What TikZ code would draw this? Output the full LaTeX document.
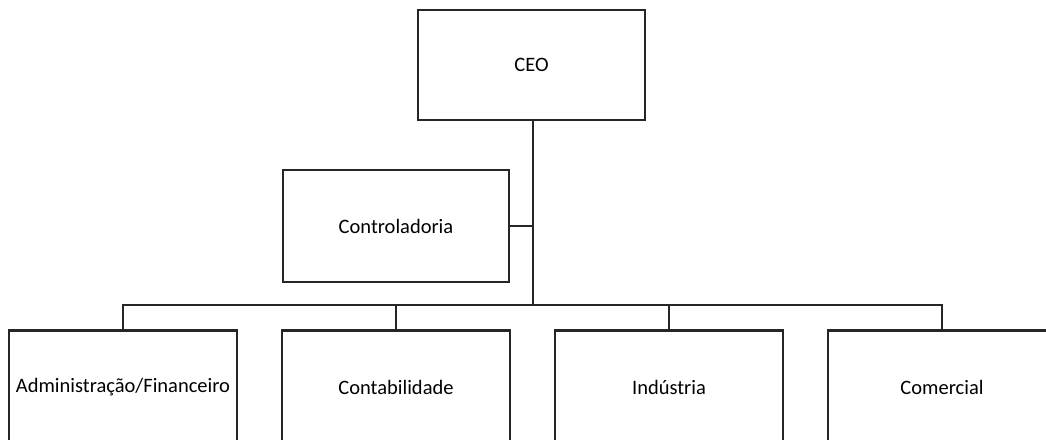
\documentclass[tikz,border=0pt]{standalone}
\usepackage{fontspec}
\setmainfont{Carlito}
\begin{document}
\begin{tikzpicture}[x=1pt,y=-1pt,
  box/.style={draw=black!85,line width=2.6pt,fill=white,inner sep=0pt},
  lbl/.style={font=\fontsize{20.5}{24}\selectfont},
  conn/.style={draw=black!85,line width=2.6pt}]
\useasboundingbox (0,0) rectangle (1046,439);
\clip (0,0) rectangle (1046,439);
\node[box,lbl,minimum width=227pt,minimum height=110pt] (ceo) at (531.5,65) {CEO};
\node[box,lbl,minimum width=226pt,minimum height=112pt] (ctrl) at (396,226) {Controladoria};
\node[box,minimum width=228pt,minimum height=116pt,anchor=north] (adm) at (123,329) {};
\node[box,minimum width=228pt,minimum height=116pt,anchor=north] (cont) at (396,329) {};
\node[box,minimum width=228pt,minimum height=116pt,anchor=north] (ind) at (669,329) {};
\node[box,minimum width=228pt,minimum height=116pt,anchor=north] (com) at (942,329) {};
\node[lbl] (admt) at (123,387) {Administração/Financeiro};
\node[lbl] (contt) at (396,387) {Contabilidade};
\node[lbl] (indt) at (669,387) {Indústria};
\node[lbl] (comt) at (942,387) {Comercial};
\coordinate (bus) at (533,305);
\draw[conn] (ceo.south -| bus) -- (bus);
\draw[conn] (ctrl.east) -- (ctrl.east -| bus);
\draw[conn] (adm.north) -- (adm.north |- bus) -- (com.north |- bus) -- (com.north);
\draw[conn] (cont.north) -- (cont.north |- bus);
\draw[conn] (ind.north) -- (ind.north |- bus);
\end{tikzpicture}
\end{document}
